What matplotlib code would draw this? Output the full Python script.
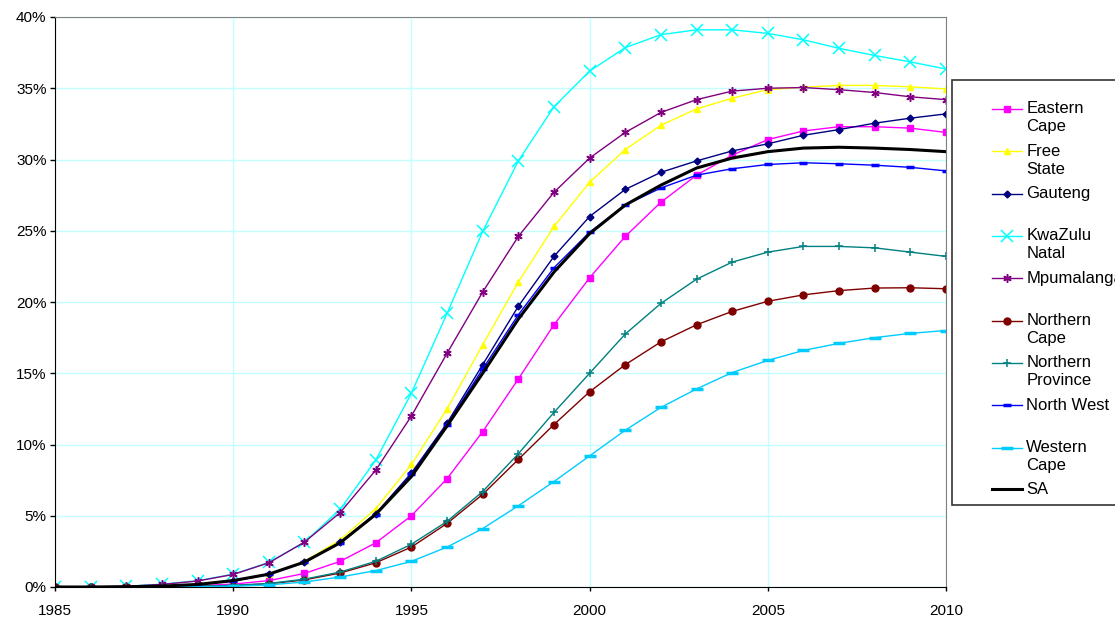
import matplotlib
matplotlib.use("Agg")
import matplotlib.pyplot as plt
import numpy as np
from matplotlib.legend_handler import HandlerLine2D
from matplotlib.ticker import PercentFormatter

plt.rcParams['font.family'] = ['Liberation Sans', 'DejaVu Sans']

# HIV prevalence by province (%)
years = list(range(1985, 2011))

eastern_cape = [0, 0, 0.01, 0.03, 0.1, 0.2, 0.45, 0.95, 1.8, 3.1, 5.0, 7.6, 10.9, 14.6, 18.4,
                21.7, 24.6, 27.0, 28.9, 30.3, 31.4, 32.0, 32.3, 32.3, 32.2, 31.9]
free_state = [0, 0, 0.02, 0.06, 0.18, 0.44, 0.9, 1.8, 3.3, 5.5, 8.6, 12.5, 17.0, 21.4, 25.3,
              28.4, 30.7, 32.4, 33.55, 34.3, 34.9, 35.07, 35.2, 35.2, 35.1, 34.95]
gauteng = [0, 0, 0.02, 0.06, 0.18, 0.45, 0.9, 1.75, 3.15, 5.15, 8.0, 11.5, 15.6, 19.7, 23.2,
           26.0, 27.9, 29.1, 29.9, 30.6, 31.1, 31.7, 32.1, 32.55, 32.9, 33.2]
kwazulu_natal = [0, 0.01, 0.05, 0.2, 0.44, 0.9, 1.72, 3.15, 5.45, 8.9, 13.6, 19.2, 24.95, 29.9, 33.7,
                 36.2, 37.85, 38.76, 39.1, 39.1, 38.85, 38.4, 37.8, 37.3, 36.85, 36.35]
mpumalanga = [0, 0.01, 0.05, 0.18, 0.42, 0.88, 1.7, 3.15, 5.22, 8.2, 12.0, 16.4, 20.7, 24.6, 27.7,
              30.1, 31.9, 33.3, 34.2, 34.8, 35.0, 35.05, 34.9, 34.7, 34.4, 34.2]
northern_cape = [0, 0, 0.01, 0.02, 0.05, 0.1, 0.22, 0.5, 0.98, 1.7, 2.8, 4.46, 6.5, 8.95, 11.4,
                 13.7, 15.6, 17.2, 18.4, 19.34, 20.05, 20.5, 20.8, 20.98, 21.0, 20.93]
northern_province = [0, 0, 0.01, 0.02, 0.05, 0.12, 0.25, 0.55, 1.05, 1.8, 3.0, 4.6, 6.7, 9.35, 12.25,
                     15.0, 17.75, 19.9, 21.6, 22.8, 23.5, 23.9, 23.9, 23.8, 23.5, 23.2]
north_west = [0, 0, 0.02, 0.06, 0.17, 0.42, 0.88, 1.72, 3.1, 5.05, 7.9, 11.4, 15.3, 19.1, 22.4,
              24.9, 26.8, 28.0, 28.9, 29.35, 29.65, 29.77, 29.7, 29.6, 29.45, 29.2]
western_cape = [0, 0, 0, 0.01, 0.02, 0.05, 0.15, 0.35, 0.7, 1.15, 1.8, 2.8, 4.1, 5.7, 7.4,
                9.2, 11.0, 12.6, 13.9, 15.05, 15.9, 16.6, 17.1, 17.5, 17.8, 18.0]
sa_total = [0, 0, 0.02, 0.06, 0.18, 0.45, 0.9, 1.75, 3.1, 5.1, 7.75, 11.3, 15.0, 18.8, 22.1,
            24.8, 26.8, 28.2, 29.4, 30.1, 30.55, 30.8, 30.86, 30.8, 30.7, 30.55]

labels = ['Eastern\nCape', 'Free\nState', 'Gauteng\n ', 'KwaZulu\nNatal', 'Mpumalanga\n ',
          'Northern\nCape', 'Northern\nProvince', 'North West\n ', 'Western\nCape', 'SA']
series = [eastern_cape, free_state, gauteng, kwazulu_natal, mpumalanga,
          northern_cape, northern_province, north_west, western_cape, sa_total]

styles = [
    dict(color='#FF00FF', marker='s', ms=5),
    dict(color='#FFFF00', marker='^', ms=5),
    dict(color='#000080', marker='D', ms=3.5),
    dict(color='#00FFFF', marker='x', ms=8, mew=1.1),
    dict(color='#800080', marker=(6, 2, 0), ms=6, mew=1.1),
    dict(color='#800000', marker='o', ms=5),
    dict(color='#008080', marker='+', ms=6, mew=1.1),
    dict(color='#0000FF', marker='_', ms=6, mew=2.5),
    dict(color='#00CCFF', marker='_', ms=9, mew=2.5),
    dict(color='black', lw=2.2),
]


class OffsetHandler(HandlerLine2D):
    """Excel-like legend key: short line on the right of the slot, lifted to the first text line."""

    def __init__(self, dy=0.0, **kw):
        super().__init__(**kw)
        self.dy = dy

    def create_artists(self, legend, orig_handle, xdescent, ydescent, width, height, fontsize, trans):
        artists = super().create_artists(legend, orig_handle, xdescent, ydescent,
                                         width, height, fontsize, trans)
        for a in artists:
            x = np.asarray(a.get_xdata(), dtype=float)
            y = np.asarray(a.get_ydata(), dtype=float)
            x0 = width * 0.516
            a.set_xdata(x0 + (x - x.min()) / max(x.max() - x.min(), 1e-9) * (width - x0))
            a.set_ydata(y + self.dy)
        return artists


fig = plt.figure(figsize=(11.15, 6.18), dpi=100)
ax = fig.add_axes([55 / 1115, 1 - 587 / 618, 891 / 1115, 570 / 618])

handles = []
for vals, label, st in zip(series, labels, styles):
    kw = dict(lw=1.0)
    kw.update(st)
    line, = ax.plot(years, vals, label=label, **kw)
    handles.append(line)

ax.set_xlim(1985, 2010)
ax.set_ylim(0, 40)
ax.set_xticks(range(1985, 2011, 5))
ax.set_yticks(range(0, 41, 5))
ax.yaxis.set_major_formatter(PercentFormatter(xmax=100, decimals=0))
ax.grid(True, color='#C4FFFF', lw=1.0)
ax.set_axisbelow(True)
ax.tick_params(labelsize=11, width=1, direction='out', colors='black')
ax.tick_params(axis='x', length=3, pad=9)
ax.tick_params(axis='y', length=3.6, pad=2.5)

for side in ['top', 'right']:
    ax.spines[side].set_color('#808080')
for side in ['left', 'bottom']:
    ax.spines[side].set_color('black')

hmap = {h: OffsetHandler(dy=6.5) for h in handles[:-1]}
hmap[handles[-1]] = OffsetHandler(dy=0.0)

# blank tiny title only adds the extra top gap of the Excel legend
leg = fig.legend(handles=handles, labels=labels, loc='upper left',
                 bbox_to_anchor=(952 / 1115, 1 - 80 / 618), fontsize=12,
                 title=' ', title_fontsize=3,
                 handler_map=hmap, numpoints=1, frameon=True, fancybox=False,
                 edgecolor='black', borderpad=0.48, handlelength=3.72,
                 handletextpad=0.25, labelspacing=0.56, borderaxespad=0)
leg.get_frame().set_linewidth(1.2)
for t in leg.get_texts():
    t.set_linespacing(1.25)

fig.savefig('out.png', dpi=100, facecolor='white')
